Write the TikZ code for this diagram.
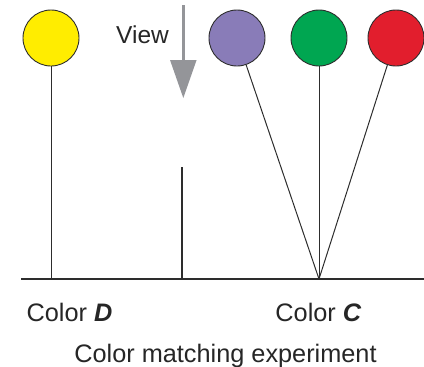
\documentclass[tikz,border=0pt]{standalone}
\usepackage{fontspec}
\setmainfont{Liberation Sans}
\definecolor{cyellow}{RGB}{255,237,0}
\definecolor{cpurple}{RGB}{137,124,184}
\definecolor{cgreen}{RGB}{0,166,81}
\definecolor{cred}{RGB}{226,30,45}
\definecolor{cline}{RGB}{45,45,45}
\definecolor{carrow}{RGB}{148,149,153}
\begin{document}
\begin{tikzpicture}[x=1pt,y=-1pt,
  ball/.style={circle,draw=cline,line width=0.9pt,minimum size=56pt,inner sep=0pt},
  stick/.style={draw=cline,line width=1pt},
  lbl/.style={font=\fontsize{24.5}{28}\selectfont,text=black!85,inner sep=0pt,anchor=base},
  blbl/.style={lbl,font=\fontsize{25.3}{30}\selectfont}]
\useasboundingbox (0,0) rectangle (424,367);
\node[ball,fill=cyellow] (y) at (51,38) {};
\node[ball,fill=cpurple] (p) at (237,38) {};
\node[ball,fill=cgreen] (g) at (319,38) {};
\node[ball,fill=cred] (r) at (396,38) {};
\coordinate (base0) at (21,279);
\coordinate (base1) at (424,279);
\coordinate (yb) at (51,279);
\coordinate (apex) at (319,279);
\coordinate (wallt) at (182,167);
\coordinate (wallb) at (182,279);
\draw[stick] (y) -- (yb);
\draw[stick] (p) -- (apex);
\draw[stick] (g) -- (apex);
\draw[stick] (r) -- (apex);
\draw[draw=cline,line width=2.2pt] (wallt) -- (wallb);
\draw[draw=cline,line width=2.6pt] (base0) -- (base1);
\coordinate (at) at (183.3,5);
\coordinate (am) at (183.3,61);
\draw[carrow,line width=2.6pt] (at) -- (am);
\fill[carrow] (170,60) -- (196.6,60) -- (183.3,98) -- cycle;
\node[lbl] (view) at (142.5,43) {View};
\node[blbl] (cd) at (69.5,321) {Color \textbf{\textit{D}}};
\node[blbl] (cc) at (318.5,321) {Color \textbf{\textit{C}}};
\node[blbl] (cme) at (225.5,362) {Color matching experiment};
\end{tikzpicture}
\end{document}
